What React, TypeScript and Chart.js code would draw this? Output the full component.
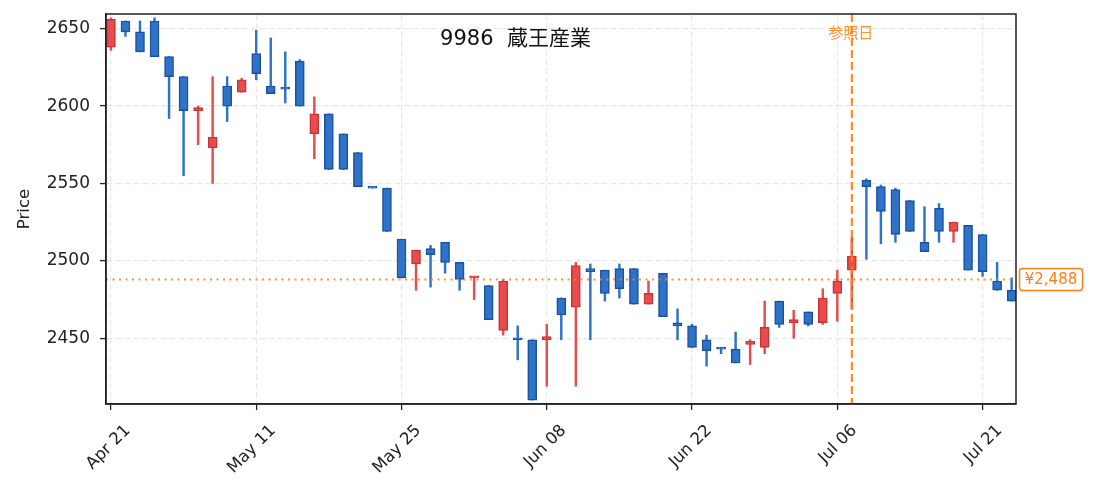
import { useEffect, useRef } from 'react';
import { Chart, ChartConfiguration, registerables } from 'chart.js';

Chart.register(...registerables);

// trading days (Apr 21 .. Jul 23)
const dates = [
  'Apr 21', 'Apr 22', 'Apr 23', 'Apr 24', 'Apr 27', 'Apr 28', 'Apr 30', 'May 01', 'May 07', 'May 08',
  'May 11', 'May 12', 'May 13', 'May 14', 'May 15', 'May 18', 'May 19', 'May 20', 'May 21', 'May 22',
  'May 25', 'May 26', 'May 27', 'May 28', 'May 29', 'Jun 01', 'Jun 02', 'Jun 03', 'Jun 04', 'Jun 05',
  'Jun 08', 'Jun 09', 'Jun 10', 'Jun 11', 'Jun 12', 'Jun 15', 'Jun 16', 'Jun 17', 'Jun 18', 'Jun 19',
  'Jun 22', 'Jun 23', 'Jun 24', 'Jun 25', 'Jun 26', 'Jun 29', 'Jun 30', 'Jul 01', 'Jul 02', 'Jul 03',
  'Jul 06', 'Jul 07', 'Jul 08', 'Jul 09', 'Jul 10', 'Jul 13', 'Jul 14', 'Jul 15', 'Jul 16', 'Jul 17',
  'Jul 21', 'Jul 22', 'Jul 23',
];

const opens = [
  2638, 2655, 2648, 2655, 2632, 2619, 2597, 2573, 2613, 2609,
  2634, 2613, 2612, 2629, 2582, 2595, 2582, 2570, 2548, 2547,
  2514, 2498, 2508, 2512, 2499, 2489, 2484, 2455, 2450, 2449,
  2449, 2476, 2470, 2495, 2494, 2495, 2495, 2472, 2492, 2460,
  2458, 2449, 2444, 2443, 2446, 2444, 2474, 2460, 2467, 2460,
  2479, 2494, 2552, 2548, 2546, 2539, 2512, 2534, 2519, 2523,
  2517, 2487, 2481,
];
const highs = [
  2657, 2655, 2655, 2657, 2632, 2619, 2600, 2619, 2619, 2618,
  2649, 2644, 2635, 2630, 2606, 2595, 2582, 2570, 2548, 2547,
  2514, 2507, 2510, 2512, 2499, 2490, 2484, 2488, 2458, 2449,
  2459, 2476, 2499, 2498, 2494, 2498, 2495, 2487, 2492, 2469,
  2459, 2452, 2444, 2454, 2449, 2474, 2474, 2468, 2467, 2482,
  2494, 2515, 2553, 2549, 2547, 2539, 2535, 2537, 2525, 2523,
  2517, 2499, 2489,
];
const lows = [
  2636, 2645, 2635, 2632, 2592, 2555, 2575, 2550, 2590, 2609,
  2617, 2608, 2602, 2600, 2566, 2559, 2559, 2548, 2547, 2519,
  2489, 2481, 2483, 2492, 2481, 2475, 2462, 2452, 2436, 2410,
  2419, 2449, 2419, 2449, 2474, 2476, 2472, 2472, 2464, 2449,
  2444, 2432, 2440, 2434, 2433, 2440, 2457, 2450, 2458, 2459,
  2461, 2469, 2501, 2511, 2512, 2519, 2506, 2512, 2512, 2494,
  2490, 2481, 2474,
];
const closes = [
  2656, 2648, 2635, 2632, 2619, 2597, 2599, 2580, 2600, 2617,
  2621, 2608, 2611, 2600, 2595, 2559, 2559, 2548, 2547, 2519,
  2489, 2507, 2504, 2499, 2488, 2490, 2462, 2487, 2449, 2410,
  2451, 2465, 2497, 2493, 2479, 2482, 2472, 2479, 2464, 2458,
  2444, 2442, 2443, 2434, 2448, 2457, 2459, 2462, 2459, 2476,
  2487, 2503, 2548, 2532, 2517, 2519, 2506, 2519, 2525, 2494,
  2493, 2481, 2474,
];

const xTickIndex = [0, 10, 20, 30, 40, 50, 60];
const yTicks = [2450, 2500, 2550, 2600, 2650];

const titleText = '9986  蔵王産業';
const refIndex = 51; // 参照日 = Jul 07
const refLabel = '参照日';
const refPrice = 2488;
const refPriceLabel = '¥2,488';

const UP_FILL = '#e84c4c';
const UP_EDGE = '#c93434';
const DOWN_FILL = '#2e73c7';
const DOWN_EDGE = '#1b51a1';
const ORANGE = '#ff7f0e';
const FONT = '"DejaVu Sans", "Noto Sans CJK JP", sans-serif';

const overlayPlugin = {
  id: 'overlay',
  afterDatasetsDraw(chart: Chart) {
    const { ctx, chartArea: a } = chart;
    const x = chart.scales.x;
    const y = chart.scales.y;
    ctx.save();
    // reference price line
    const py = y.getPixelForValue(refPrice);
    ctx.strokeStyle = ORANGE;
    ctx.globalAlpha = 0.85;
    ctx.lineWidth = 2;
    ctx.setLineDash([2, 4.5]);
    ctx.beginPath();
    ctx.moveTo(a.left, py);
    ctx.lineTo(a.right, py);
    ctx.stroke();
    // reference date line
    const px = x.getPixelForValue(refIndex);
    ctx.globalAlpha = 0.9;
    ctx.lineWidth = 2.2;
    ctx.setLineDash([8, 4]);
    ctx.beginPath();
    ctx.moveTo(px, a.top);
    ctx.lineTo(px, a.bottom);
    ctx.stroke();
    ctx.restore();
  },
  afterDraw(chart: Chart) {
    const { ctx, chartArea: a } = chart;
    const x = chart.scales.x;
    const y = chart.scales.y;
    ctx.save();
    // frame
    ctx.strokeStyle = '#222';
    ctx.lineWidth = 1.5;
    ctx.strokeRect(a.left, a.top, a.right - a.left, a.bottom - a.top);

    // title
    ctx.fillStyle = '#111';
    ctx.font = `21px ${FONT}`;
    ctx.textAlign = 'center';
    ctx.textBaseline = 'middle';
    ctx.fillText(titleText, a.left + (a.right - a.left) * 0.45, a.top + 26);

    // ref date label
    const px = x.getPixelForValue(refIndex);
    ctx.fillStyle = ORANGE;
    ctx.globalAlpha = 0.85;
    ctx.font = `15px ${FONT}`;
    ctx.fillText(refLabel, px - 1, a.top + 20);
    ctx.globalAlpha = 1;

    // price box
    const py = y.getPixelForValue(refPrice);
    const bx = a.right + 3.5;
    const bw = 63;
    const bh = 22;
    ctx.beginPath();
    ctx.roundRect(bx, py - bh / 2, bw, bh, 3);
    ctx.fillStyle = '#fff';
    ctx.fill();
    ctx.strokeStyle = ORANGE;
    ctx.lineWidth = 1.5;
    ctx.stroke();
    ctx.fillStyle = ORANGE;
    ctx.font = `15px ${FONT}`;
    ctx.fillText(refPriceLabel, bx + bw / 2, py + 0.5);
    ctx.restore();
  },
};

export default function App() {
  const canvasRef = useRef<HTMLCanvasElement>(null);
  const chartRef = useRef<Chart | null>(null);

  useEffect(() => {
    if (!canvasRef.current) return;
    const ctx = canvasRef.current.getContext('2d');
    if (!ctx) return;

    Chart.defaults.font.family = FONT;

    const isUp = dates.map((_, i) => closes[i] >= opens[i]);

    const config: ChartConfiguration = {
      type: 'bar',
      data: {
        datasets: [
          {
            label: 'body',
            data: dates.map((_, i) => ({
              x: i,
              y: [Math.min(opens[i], closes[i]), Math.max(opens[i], closes[i])],
            })) as any,
            backgroundColor: isUp.map(u => (u ? UP_FILL : DOWN_FILL)),
            borderColor: isUp.map(u => (u ? UP_EDGE : DOWN_EDGE)),
            borderWidth: 1.5,
            borderSkipped: false,
            barThickness: 9,
            minBarLength: 2,
            grouped: false,
            order: 0,
          },
          {
            label: 'wick',
            data: dates.map((_, i) => ({ x: i, y: [lows[i], highs[i]] })) as any,
            backgroundColor: isUp.map(u => (u ? UP_FILL : DOWN_FILL)),
            borderWidth: 0,
            barThickness: 1.8,
            grouped: false,
            order: 1,
          },
        ],
      },
      options: {
        responsive: true,
        maintainAspectRatio: false,
        animation: false,
        layout: { padding: { top: 14, right: 79, bottom: 0, left: 0 } },
        plugins: {
          legend: { display: false },
          tooltip: { enabled: false },
        },
        scales: {
          x: {
            type: 'linear',
            min: -0.34,
            max: 62.3,
            offset: false,
            afterBuildTicks: (s: any) => {
              s.ticks = xTickIndex.map(v => ({ value: v }));
            },
            afterFit: (s: any) => {
              s.height = 88;
              s.paddingLeft = 0;
              s.paddingRight = 0;
            },
            ticks: {
              autoSkip: false,
              minRotation: 45,
              maxRotation: 45,
              labelOffset: 17,
              padding: 11,
              color: '#222',
              font: { size: 16.5 },
              callback: (v: any) => dates[Number(v)] ?? '',
            },
            grid: {
              offset: false,
              color: '#e8e8e8',
              lineWidth: 1.2,
              tickColor: '#222',
              tickLength: 6,
              tickWidth: 1.3,
              tickBorderDash: [],
            },
            border: { color: '#222', width: 1.5, dash: [6, 3] },
          },
          y: {
            min: 2407.5,
            max: 2659.5,
            afterBuildTicks: (s: any) => {
              s.ticks = yTicks.map(v => ({ value: v }));
            },
            afterFit: (s: any) => {
              s.width = 106;
              s.paddingTop = 0;
              s.paddingBottom = 0;
            },
            ticks: {
              padding: 10,
              color: '#222',
              font: { size: 17 },
              callback: (v: any) => String(v),
            },
            grid: {
              color: '#e8e8e8',
              lineWidth: 1.2,
              tickColor: '#222',
              tickLength: 6,
              tickWidth: 1.3,
              tickBorderDash: [],
            },
            border: { color: '#222', width: 1.5, dash: [6, 3] },
            title: {
              display: true,
              text: 'Price',
              color: '#222',
              font: { size: 16.5 },
              padding: { top: 15, bottom: 0 },
            },
          },
        },
      },
      plugins: [overlayPlugin],
    };

    if (chartRef.current) chartRef.current.destroy();
    chartRef.current = new Chart(ctx, config);

    return () => {
      if (chartRef.current) {
        chartRef.current.destroy();
        chartRef.current = null;
      }
    };
  }, []);

  return (
    <div style={{ position: 'fixed', left: 0, top: 0, width: 1095, height: 492, background: '#fff' }}>
      <canvas ref={canvasRef} />
    </div>
  );
}
